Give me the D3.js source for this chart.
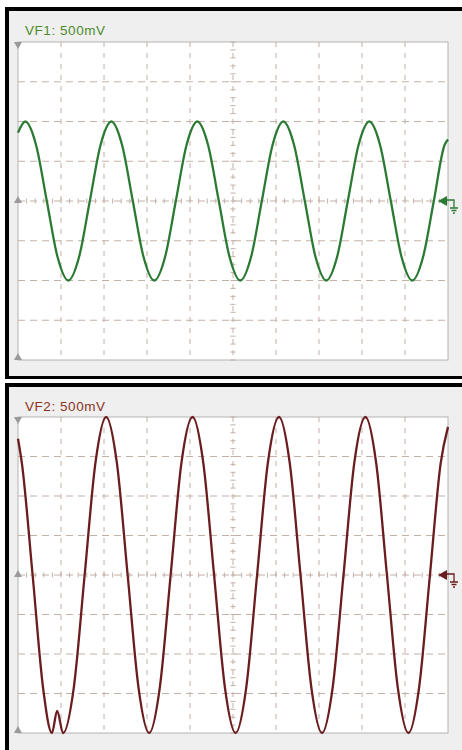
<!DOCTYPE html>
<html>
<head>
<meta charset="utf-8">
<script src="https://cdn.jsdelivr.net/npm/d3@7"></script>
<style>
  body { margin: 0; background: #fff; }
  svg { display: block; }
</style>
</head>
<body>
<div id="chart"></div>
<script>
// channel labels
const labels = ["VF1: 500mV", "VF2: 500mV"];

// VF1 trace: time in divisions, level in divisions
const vf1Time = [0, 0.17, 0.42, 0.67, 0.92, 1.17, 1.42, 1.67, 1.92,
  2.17, 2.42, 2.67, 2.92, 3.17, 3.42, 3.67, 3.92,
  4.17, 4.42, 4.67, 4.92, 5.17, 5.42, 5.67, 5.92,
  6.17, 6.42, 6.67, 6.92, 7.17, 7.42, 7.67, 7.92,
  8.17, 8.42, 8.67, 8.92, 9.17, 9.42, 9.67, 9.92, 10];
const vf1Level = [1.72, 2, 1.41, 0, -1.41, -2, -1.41, 0, 1.41,
  2, 1.41, 0, -1.41, -2, -1.41, 0, 1.41,
  2, 1.41, 0, -1.41, -2, -1.41, 0, 1.41,
  2, 1.41, 0, -1.41, -2, -1.41, 0, 1.41,
  2, 1.41, 0, -1.41, -2, -1.41, 0, 1.41, 1.55];

// VF2 trace (clips at the screen edge, glitch at the first trough)
const vf2Time = [0, 0.09, 0.34, 0.58, 0.79, 0.91, 1.05, 1.30, 1.55, 1.80,
  2.05, 2.30, 2.55, 2.80, 3.05, 3.30, 3.55, 3.80,
  4.06, 4.31, 4.56, 4.81, 5.06, 5.31, 5.56, 5.81,
  6.07, 6.32, 6.57, 6.82, 7.07, 7.32, 7.57, 7.82,
  8.08, 8.33, 8.58, 8.83, 9.08, 9.33, 9.58, 9.83, 10];
const vf2Level = [3.45, 2.83, 0, -2.83, -4, -3.44, -4, -2.83, 0, 2.83,
  4, 2.83, 0, -2.83, -4, -2.83, 0, 2.83,
  4, 2.83, 0, -2.83, -4, -2.83, 0, 2.83,
  4, 2.83, 0, -2.83, -4, -2.83, 0, 2.83,
  4, 2.83, 0, -2.83, -4, -2.83, 0, 2.83, 3.75];

const panels = [
  {label: labels[0], time: vf1Time, level: vf1Level, color: "#2b7a34", labelColor: "#4a8c2c", top: 7, bottom: 379, plotTop: 42, plotBottom: 360},
  {label: labels[1], time: vf2Time, level: vf2Level, color: "#6a1c1e", labelColor: "#8a3322", top: 383, bottom: 760, plotTop: 417, plotBottom: 733}
];

const width = 462, height = 750;
const plotLeft = 18, plotRight = 448;

const svg = d3.select("#chart")
  .append("svg")
  .attr("width", width)
  .attr("height", height);

panels.forEach(p => {
  const x = d3.scaleLinear().domain([0, 10]).range([plotLeft, plotRight]);
  const y = d3.scaleLinear().domain([-4, 4]).range([p.plotBottom, p.plotTop]);
  const g = svg.append("g");

  // frame
  g.append("rect")
    .attr("x", 5).attr("y", p.top)
    .attr("width", width).attr("height", p.bottom - p.top)
    .attr("fill", "#000");
  g.append("rect")
    .attr("x", 9).attr("y", p.top + 4)
    .attr("width", width).attr("height", p.bottom - p.top - 7)
    .attr("fill", "#efefef");

  g.append("text")
    .attr("x", 25).attr("y", p.top + 28)
    .attr("font-family", "Liberation Sans, Arial, sans-serif")
    .attr("font-size", "13.5px")
    .attr("textLength", 80)
    .attr("fill", p.labelColor)
    .text(p.label);

  // screen
  g.append("rect")
    .attr("x", plotLeft).attr("y", p.plotTop)
    .attr("width", plotRight - plotLeft).attr("height", p.plotBottom - p.plotTop)
    .attr("fill", "#fff")
    .attr("stroke", "#b4b4b4");

  const gridColor = "#c4b0a6";
  g.append("g")
    .selectAll("line")
    .data(d3.range(1, 10))
    .join("line")
    .attr("x1", d => x(d)).attr("x2", d => x(d))
    .attr("y1", p.plotTop).attr("y2", p.plotBottom)
    .attr("stroke", gridColor)
    .attr("stroke-dasharray", "5,6");
  g.append("g")
    .selectAll("line")
    .data(d3.range(-3, 4))
    .join("line")
    .attr("x1", plotLeft).attr("x2", plotRight)
    .attr("y1", d => y(d)).attr("y2", d => y(d))
    .attr("stroke", gridColor)
    .attr("stroke-dasharray", "7,5");

  // minor ticks on the centre cross
  g.append("g")
    .selectAll("line")
    .data(d3.range(0, 10.01, 0.2))
    .join("line")
    .attr("x1", d => x(d)).attr("x2", d => x(d))
    .attr("y1", y(0) - 2.5).attr("y2", y(0) + 2.5)
    .attr("stroke", gridColor);
  g.append("g")
    .selectAll("line")
    .data(d3.range(-4, 4.01, 0.2))
    .join("line")
    .attr("x1", x(5) - 2.5).attr("x2", x(5) + 2.5)
    .attr("y1", d => y(d)).attr("y2", d => y(d))
    .attr("stroke", gridColor);

  // left edge markers
  const mk = "#9a9a9a";
  g.append("path")
    .attr("d", `M${plotLeft - 4},${p.plotTop}L${plotLeft + 4},${p.plotTop}L${plotLeft},${p.plotTop + 7}Z`)
    .attr("fill", mk);
  g.append("path")
    .attr("d", `M${plotLeft - 4},${p.plotBottom}L${plotLeft + 4},${p.plotBottom}L${plotLeft},${p.plotBottom - 7}Z`)
    .attr("fill", mk);
  g.append("path")
    .attr("d", `M${plotLeft - 4},${y(0) + 2}L${plotLeft + 4},${y(0) + 2}L${plotLeft},${y(0) - 5}Z`)
    .attr("fill", mk);

  // trace
  const pts = p.time.map((t, i) => [t, p.level[i]]);
  g.append("path")
    .datum(pts)
    .attr("fill", "none")
    .attr("stroke", p.color)
    .attr("stroke-width", 2.3)
    .attr("stroke-linejoin", "round")
    .attr("d", d3.line()
      .x(d => x(d[0]))
      .y(d => y(d[1]))
      .curve(d3.curveMonotoneX));

  // ground reference marker
  const gy = y(0);
  g.append("path")
    .attr("d", `M438,${gy}L447,${gy - 5}L447,${gy + 5}Z`)
    .attr("fill", p.color);
  g.append("path")
    .attr("d", `M446,${gy - 1}L454,${gy - 1}L454,${gy + 7}M450,${gy + 7}L458,${gy + 7}M451.5,${gy + 9.5}L456.5,${gy + 9.5}M453,${gy + 12}L455,${gy + 12}`)
    .attr("fill", "none")
    .attr("stroke", p.color)
    .attr("stroke-width", 1.3);
});
</script>
</body>
</html>
